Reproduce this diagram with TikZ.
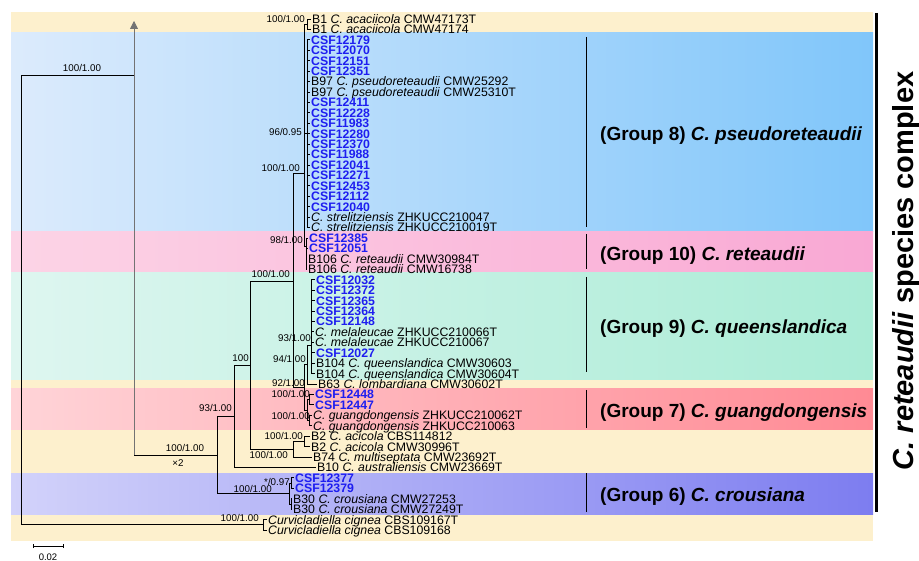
\documentclass[tikz,border=0pt]{standalone}
\usepackage{fontspec}
\setmainfont{Liberation Sans}
\usetikzlibrary{arrows.meta}
\definecolor{bandY}{RGB}{253,240,205}
\definecolor{gEightL}{RGB}{220,235,252}\definecolor{gEightR}{RGB}{128,198,250}
\definecolor{gTenL}{RGB}{252,212,230}\definecolor{gTenR}{RGB}{249,168,212}
\definecolor{gNineL}{RGB}{222,246,240}\definecolor{gNineR}{RGB}{170,236,214}
\definecolor{gSevenL}{RGB}{255,212,216}\definecolor{gSevenR}{RGB}{255,138,148}
\definecolor{gSixL}{RGB}{210,210,250}\definecolor{gSixR}{RGB}{125,125,240}
\definecolor{csfblue}{RGB}{30,30,240}
\newcommand\cbl[1]{\textcolor{csfblue}{\bfseries #1}}
\begin{document}
\begin{tikzpicture}[x=1pt,y=-1pt,
  tip/.style={anchor=base west, inner sep=0pt, font=\fontsize{12.3}{12}\selectfont},
  sup/.style={anchor=base east, inner sep=0pt, font=\fontsize{9.8}{10}\selectfont},
  grp/.style={anchor=base west, inner sep=0pt, font=\bfseries\fontsize{19}{20}\selectfont},
  br/.style={line width=0.9pt, black},
  gbar/.style={line width=0.8pt, black}]
\useasboundingbox (0,0) rectangle (919,561);
% bands
\fill[bandY] (11,12) rectangle (873,541);
\fill[left color=gEightL, right color=gEightR] (11,33) rectangle (873,232);
\fill[left color=gTenL, right color=gTenR] (11,232) rectangle (873,273);
\fill[left color=gNineL, right color=gNineR] (11,273) rectangle (873,380);
\fill[left color=gSevenL, right color=gSevenR] (11,389) rectangle (873,430);
\fill[left color=gSixL, right color=gSixR] (11,473) rectangle (873,514);
% tips
\foreach \i/\xx/\txt in {
1/312/{B1 \textit{C. acaciicola} CMW47173T},
2/312/{B1 \textit{C. acaciicola} CMW47174},
3/311/{\cbl{CSF12179}},4/311/{\cbl{CSF12070}},5/311/{\cbl{CSF12151}},6/311/{\cbl{CSF12351}},
7/311/{B97 \textit{C. pseudoreteaudii} CMW25292},
8/311/{B97 \textit{C. pseudoreteaudii} CMW25310T},
9/311/{\cbl{CSF12411}},10/311/{\cbl{CSF12228}},11/311/{\cbl{CSF11983}},12/311/{\cbl{CSF12280}},
13/311/{\cbl{CSF12370}},14/311/{\cbl{CSF11988}},15/311/{\cbl{CSF12041}},16/311/{\cbl{CSF12271}},
17/311/{\cbl{CSF12453}},18/311/{\cbl{CSF12112}},19/311/{\cbl{CSF12040}},
20/311/{\textit{C. strelitziensis} ZHKUCC210047},
21/311/{\textit{C. strelitziensis} ZHKUCC210019T},
22/309/{\cbl{CSF12385}},23/309/{\cbl{CSF12051}},
24/308/{B106 \textit{C. reteaudii} CMW30984T},
25/308/{B106 \textit{C. reteaudii} CMW16738},
26/316/{\cbl{CSF12032}},27/316/{\cbl{CSF12372}},28/316/{\cbl{CSF12365}},29/316/{\cbl{CSF12364}},30/316/{\cbl{CSF12148}},
31/315/{\textit{C. melaleucae} ZHKUCC210066T},
32/315/{\textit{C. melaleucae} ZHKUCC210067},
33/316/{\cbl{CSF12027}},
34/316/{B104 \textit{C. queenslandica} CMW30603},
35/316/{B104 \textit{C. queenslandica} CMW30604T},
36/318/{B63 \textit{C. lombardiana} CMW30602T},
37/315/{\cbl{CSF12448}},38/315/{\cbl{CSF12447}},
39/313/{\textit{C. guangdongensis} ZHKUCC210062T},
40/313/{\textit{C. guangdongensis} ZHKUCC210063},
41/311/{B2 \textit{C. acicola} CBS114812},
42/311/{B2 \textit{C. acicola} CMW30996T},
43/313/{B74 \textit{C. multiseptata} CMW23692T},
44/317/{B10 \textit{C. australiensis} CMW23669T},
45/295/{\cbl{CSF12377}},46/295/{\cbl{CSF12379}},
47/293/{B30 \textit{C. crousiana} CMW27253},
48/293/{B30 \textit{C. crousiana} CMW27249T},
49/268/{\textit{Curvicladiella cignea} CBS109167T},
50/268/{\textit{Curvicladiella cignea} CBS109168}}{
  \node[tip] (t\i) at (\xx, {19+(\i-1)*10.43+4.4}) {\txt};
  \coordinate (l\i) at (\xx-1, {19+(\i-1)*10.43});
}
% internal nodes
\coordinate (R) at (21,300);
\coordinate (A) at (134,75);
\coordinate (B) at (134,455);
\coordinate (atop) at (134,21);
\coordinate (N217) at (217,455);
\coordinate (N234) at (234,416);
\coordinate (N250) at (250,365);
\coordinate (NB2) at (293,449.2);
\coordinate (B2p) at (304,441.4);
\coordinate (Crous) at (289,493.6);
\coordinate (CSFc) at (291,483.2);
\coordinate (B30c) at (291,504.1);
\coordinate (Curv) at (263,524.8);
\coordinate (N293) at (293,281);
\coordinate (U) at (304,173);
\coordinate (L) at (304,387);
\coordinate (B1n) at (307,24.2);
\coordinate (G8n) at (307,133);
\coordinate (G10n) at (306,246);
\coordinate (N9B) at (307,364);
\coordinate (G9n) at (311,345);
\coordinate (G7n) at (307,410);
\coordinate (CSFp) at (309,399.7);
\coordinate (Gp) at (309,420.5);
% branches
\draw[br] (R) |- (A);
\draw[br] (R) |- (Curv);
\draw[line width=0.8pt, black!55, -{Triangle[width=8pt,length=8pt]}] (B) -- (atop);
\draw[br] (B) -- (N217);
\draw[br] (N217) |- (N234);
\draw[br] (N217) |- (Crous);
\draw[br] (N234) |- (N250);
\draw[br] (N234) |- (l44);
\draw[br] (N250) |- (N293);
\draw[br] (N250) |- (NB2);
\draw[br] (NB2) |- (B2p);
\draw[br] (NB2) |- (l43);
\foreach \i in {41,42} \draw[br] (B2p) |- (l\i);
\draw[br] (Crous) |- (CSFc);
\draw[br] (Crous) |- (B30c);
\foreach \i in {45,46} \draw[br] (CSFc) |- (l\i);
\foreach \i in {47,48} \draw[br] (B30c) |- (l\i);
\foreach \i in {49,50} \draw[br] (Curv) |- (l\i);
\draw[br] (N293) |- (U);
\draw[br] (N293) |- (L);
\draw[br] (U) |- (B1n);
\draw[br] (U) |- (G8n);
\draw[br] (U) |- (G10n);
\foreach \i in {1,2} \draw[br] (B1n) |- (l\i);
\foreach \i in {3,...,21} \draw[br] (G8n) |- (l\i);
\foreach \i in {22,...,25} \draw[br] (G10n) |- (l\i);
\draw[br] (L) |- (N9B);
\draw[br] (L) |- (G7n);
\draw[br] (N9B) |- (G9n);
\draw[br] (N9B) |- (l36);
\foreach \i in {26,...,35} \draw[br] (G9n) |- (l\i);
\draw[br] (G7n) |- (CSFp);
\draw[br] (G7n) |- (Gp);
\foreach \i in {37,38} \draw[br] (CSFp) |- (l\i);
\foreach \i in {39,40} \draw[br] (Gp) |- (l\i);
% support values
\node[sup] (sB1) at (305,22.5) {100/1.00};
\node[sup] (sG8) at (302,135.5) {96/0.95};
\node[sup] (sU) at (300,171.5) {100/1.00};
\node[sup] (sG10) at (303,243.5) {98/1.00};
\node[sup] (sN293) at (290,277.5) {100/1.00};
\node[sup] (sN250) at (249,361.5) {100};
\node[sup] (sG9) at (311,341.5) {93/1.00};
\node[sup] (sN9B) at (306,362.5) {94/1.00};
\node[sup] (sL) at (305,386.5) {92/1.00};
\node[sup] (sCSFp) at (310,397.5) {100/1.00};
\node[sup] (sGp) at (310,419.5) {100/1.00};
\node[sup] (sB2p) at (303,439.5) {100/1.00};
\node[sup] (sNB2) at (288,458.5) {100/1.00};
\node[sup] (sN234) at (232,411.5) {93/1.00};
\node[sup, anchor=base] (sB) at (185,451.5) {100/1.00};
\node[sup, anchor=base] (xtwo) at (178,466.5) {×2};
\node[sup] (sCSFc) at (290,485.5) {*/0.97};
\node[sup] (sCrous) at (272,492.5) {100/1.00};
\node[sup] (sCurv) at (259,521.5) {100/1.00};
\node[sup, anchor=base] (sRoot) at (82,71.5) {100/1.00};
% groups
\draw[gbar] (586,37) -- (586,227);
\node[grp] (g8) at (600,140.8) {(Group 8) \textit{C. pseudoreteaudii}};
\draw[gbar] (586,234) -- (586,269);
\node[grp] (g10) at (600,260.3) {(Group 10) \textit{C. reteaudii}};
\draw[gbar] (586,277) -- (586,372);
\node[grp] (g9) at (600,333.3) {(Group 9) \textit{C. queenslandica}};
\draw[gbar] (586,390) -- (586,428);
\node[grp] (g7) at (600,417.8) {(Group 7) \textit{C. guangdongensis}};
\draw[gbar] (586,473) -- (586,512);
\node[grp] (g6) at (600,501.3) {(Group 6) \textit{C. crousiana}};
% complex bracket
\draw[line width=3pt] (876,13) -- (876,512);
\node[rotate=90, anchor=base, inner sep=0pt, font=\bfseries\fontsize{29}{30}\selectfont] (cx) at (913,271) {\textit{C. reteaudii} species complex};
% scale bar
\coordinate (sb1) at (33,546);
\coordinate (sb2) at (63,546);
\draw[line width=0.8pt] (sb1) -- (sb2);
\draw[line width=0.8pt] ([yshift=-2pt]sb1) -- ([yshift=2pt]sb1);
\draw[line width=0.8pt] ([yshift=-2pt]sb2) -- ([yshift=2pt]sb2);
\node[anchor=base, inner sep=0pt, font=\fontsize{9.5}{10}\selectfont] (sbl) at (48,560) {0.02};
\end{tikzpicture}
\end{document}
